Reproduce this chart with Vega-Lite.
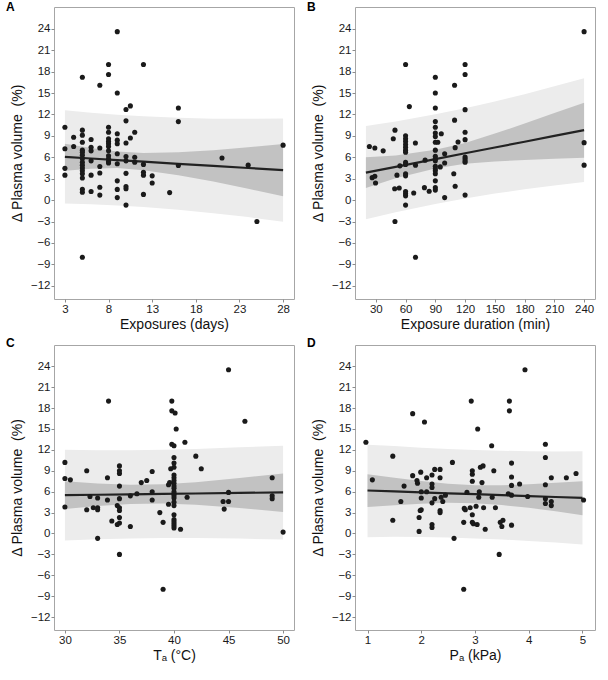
{
  "$schema": "https://vega.github.io/schema/vega-lite/v6.json",
  "padding": {"left": 5, "top": 0, "right": 0, "bottom": 0},
  "background": "white",
  "datasets": {
    "fitA": [
      {"x": 3, "pi_lo": -0.48, "pi_hi": 12.58, "ci_lo": 4.1, "ci_hi": 7.9, "fit": 6.05},
      {"x": 6, "pi_lo": -0.58, "pi_hi": 12.24, "ci_lo": 4.4, "ci_hi": 7.3, "fit": 5.83},
      {"x": 9, "pi_lo": -0.74, "pi_hi": 11.96, "ci_lo": 4.5, "ci_hi": 6.8, "fit": 5.61},
      {"x": 12, "pi_lo": -0.98, "pi_hi": 11.74, "ci_lo": 4.2, "ci_hi": 6.6, "fit": 5.38},
      {"x": 16, "pi_lo": -1.36, "pi_hi": 11.54, "ci_lo": 3.5, "ci_hi": 6.7, "fit": 5.09},
      {"x": 20, "pi_lo": -1.83, "pi_hi": 11.41, "ci_lo": 2.6, "ci_hi": 7.0, "fit": 4.79},
      {"x": 24, "pi_lo": -2.38, "pi_hi": 11.38, "ci_lo": 1.6, "ci_hi": 7.4, "fit": 4.5},
      {"x": 28, "pi_lo": -3.03, "pi_hi": 11.43, "ci_lo": 0.55, "ci_hi": 7.85, "fit": 4.2}
    ],
    "fitB": [
      {"x": 20, "pi_lo": -2.67, "pi_hi": 10.37, "ci_lo": 1.7, "ci_hi": 6.0, "fit": 3.85},
      {"x": 50, "pi_lo": -1.7, "pi_hi": 11.02, "ci_lo": 3.06, "ci_hi": 6.26, "fit": 4.66},
      {"x": 90, "pi_lo": -0.55, "pi_hi": 12.03, "ci_lo": 4.44, "ci_hi": 7.04, "fit": 5.74},
      {"x": 120, "pi_lo": 0.24, "pi_hi": 12.88, "ci_lo": 5.11, "ci_hi": 8.01, "fit": 6.56},
      {"x": 150, "pi_lo": 0.91, "pi_hi": 13.83, "ci_lo": 5.42, "ci_hi": 9.32, "fit": 7.37},
      {"x": 180, "pi_lo": 1.52, "pi_hi": 14.84, "ci_lo": 5.63, "ci_hi": 10.73, "fit": 8.18},
      {"x": 210, "pi_lo": 2.06, "pi_hi": 15.94, "ci_lo": 5.8, "ci_hi": 12.2, "fit": 9.0},
      {"x": 240, "pi_lo": 2.54, "pi_hi": 17.06, "ci_lo": 5.95, "ci_hi": 13.65, "fit": 9.8}
    ],
    "fitC": [
      {"x": 30, "pi_lo": -1.0, "pi_hi": 12.0, "ci_lo": 3.5, "ci_hi": 7.5, "fit": 5.5},
      {"x": 33, "pi_lo": -0.83, "pi_hi": 11.95, "ci_lo": 3.94, "ci_hi": 7.18, "fit": 5.56},
      {"x": 36, "pi_lo": -0.72, "pi_hi": 11.96, "ci_lo": 4.24, "ci_hi": 7.0, "fit": 5.62},
      {"x": 39, "pi_lo": -0.66, "pi_hi": 12.02, "ci_lo": 4.3, "ci_hi": 7.06, "fit": 5.68},
      {"x": 42, "pi_lo": -0.65, "pi_hi": 12.13, "ci_lo": 4.13, "ci_hi": 7.35, "fit": 5.74},
      {"x": 46, "pi_lo": -0.73, "pi_hi": 12.37, "ci_lo": 3.67, "ci_hi": 7.97, "fit": 5.82},
      {"x": 50, "pi_lo": -0.87, "pi_hi": 12.6, "ci_lo": 3.1, "ci_hi": 8.6, "fit": 5.9}
    ],
    "fitD": [
      {"x": 1, "pi_lo": -0.55, "pi_hi": 12.75, "ci_lo": 3.79, "ci_hi": 8.5, "fit": 6.17},
      {"x": 1.5, "pi_lo": -0.48, "pi_hi": 12.56, "ci_lo": 4.07, "ci_hi": 8.01, "fit": 6.04},
      {"x": 2, "pi_lo": -0.52, "pi_hi": 12.32, "ci_lo": 4.28, "ci_hi": 7.52, "fit": 5.9},
      {"x": 2.5, "pi_lo": -0.59, "pi_hi": 12.13, "ci_lo": 4.4, "ci_hi": 7.14, "fit": 5.77},
      {"x": 3, "pi_lo": -0.71, "pi_hi": 11.99, "ci_lo": 4.34, "ci_hi": 6.94, "fit": 5.64},
      {"x": 3.5, "pi_lo": -0.87, "pi_hi": 11.87, "ci_lo": 4.08, "ci_hi": 6.92, "fit": 5.5},
      {"x": 4, "pi_lo": -1.07, "pi_hi": 11.81, "ci_lo": 3.68, "ci_hi": 7.06, "fit": 5.37},
      {"x": 4.5, "pi_lo": -1.3, "pi_hi": 11.78, "ci_lo": 3.19, "ci_hi": 7.29, "fit": 5.24},
      {"x": 5, "pi_lo": -1.59, "pi_hi": 11.79, "ci_lo": 2.63, "ci_hi": 7.5, "fit": 5.1}
    ],
    "ptsA": [
      {"x": 3, "y": 10.2}, {"x": 3, "y": 7.2}, {"x": 3, "y": 4.45}, {"x": 3, "y": 3.5},
      {"x": 4, "y": 8.8}, {"x": 4, "y": 7.5},
      {"x": 5, "y": 17.2}, {"x": 5, "y": 9.8}, {"x": 5, "y": 9.1}, {"x": 5, "y": 8.1}, {"x": 5, "y": 7.0}, {"x": 5, "y": 6.7}, {"x": 5, "y": 6.3}, {"x": 5, "y": 5.8}, {"x": 5, "y": 5.3}, {"x": 5, "y": 4.9}, {"x": 5, "y": 4.5}, {"x": 5, "y": 4.1}, {"x": 5, "y": 3.7}, {"x": 5, "y": 3.1}, {"x": 5, "y": 1.5}, {"x": 5, "y": 1.1}, {"x": 5, "y": -8.0},
      {"x": 6, "y": 8.5}, {"x": 6, "y": 7.4}, {"x": 6, "y": 6.9}, {"x": 6, "y": 5.5}, {"x": 6, "y": 3.5}, {"x": 6, "y": 1.2},
      {"x": 7, "y": 16.1}, {"x": 7, "y": 7.3}, {"x": 7, "y": 4.7}, {"x": 7, "y": 3.8}, {"x": 7, "y": 1.8}, {"x": 7, "y": 0.7},
      {"x": 8, "y": 19.0}, {"x": 8, "y": 17.6}, {"x": 8, "y": 10.2}, {"x": 8, "y": 9.5}, {"x": 8, "y": 8.6}, {"x": 8, "y": 8.2}, {"x": 8, "y": 7.9}, {"x": 8, "y": 7.5}, {"x": 8, "y": 6.9}, {"x": 8, "y": 6.2}, {"x": 8, "y": 5.8}, {"x": 8, "y": 5.4}, {"x": 8, "y": 5.2},
      {"x": 9, "y": 23.6}, {"x": 9, "y": 15.0}, {"x": 9, "y": 9.3}, {"x": 9, "y": 8.4}, {"x": 9, "y": 7.9}, {"x": 9, "y": 6.5}, {"x": 9, "y": 5.1}, {"x": 9, "y": 2.7}, {"x": 9, "y": 1.5}, {"x": 9, "y": 0.35},
      {"x": 10, "y": 12.7}, {"x": 10, "y": 11.1}, {"x": 10, "y": 8.0}, {"x": 10, "y": 6.1}, {"x": 10, "y": 5.5}, {"x": 10, "y": 3.75}, {"x": 10, "y": 1.9}, {"x": 10, "y": 1.6}, {"x": 10, "y": -0.7},
      {"x": 10.5, "y": 13.2}, {"x": 10.5, "y": 8.7},
      {"x": 11, "y": 9.5}, {"x": 11, "y": 6.0}, {"x": 11, "y": 5.3},
      {"x": 12, "y": 19.0}, {"x": 12, "y": 5.0}, {"x": 12, "y": 3.9}, {"x": 12, "y": 3.5}, {"x": 12, "y": 0.8},
      {"x": 13, "y": 3.4}, {"x": 13, "y": 2.4},
      {"x": 15, "y": 1.05},
      {"x": 16, "y": 12.9}, {"x": 16, "y": 11.0}, {"x": 16, "y": 4.85},
      {"x": 21, "y": 5.9}, {"x": 24, "y": 4.9}, {"x": 25, "y": -3.0}, {"x": 28, "y": 7.7}
    ],
    "ptsB": [
      {"x": 23.5, "y": 7.5}, {"x": 29, "y": 7.3}, {"x": 37.4, "y": 6.9}, {"x": 26.3, "y": 3.15}, {"x": 29, "y": 3.35}, {"x": 29.7, "y": 2.4},
      {"x": 47.6, "y": 8.6}, {"x": 49.3, "y": 9.8}, {"x": 49.3, "y": -3.0}, {"x": 49, "y": 1.6}, {"x": 53.6, "y": 1.7}, {"x": 51.3, "y": 3.5}, {"x": 54.3, "y": 4.8},
      {"x": 60, "y": 19.0}, {"x": 60, "y": 9.0}, {"x": 60, "y": 8.6}, {"x": 60, "y": 8.2}, {"x": 60, "y": 7.8}, {"x": 60, "y": 7.4}, {"x": 60, "y": 7.0}, {"x": 60, "y": 6.7}, {"x": 60, "y": 5.3}, {"x": 60, "y": 5.0}, {"x": 60, "y": 3.7}, {"x": 60, "y": 3.4}, {"x": 60, "y": 1.2}, {"x": 60, "y": 0.9}, {"x": 60, "y": 0.6}, {"x": 60, "y": -0.7},
      {"x": 63.8, "y": 13.1}, {"x": 69.9, "y": 8.0}, {"x": 68.2, "y": 1.0}, {"x": 70, "y": 4.9}, {"x": 70, "y": -8.0}, {"x": 79.7, "y": 5.6}, {"x": 79, "y": 1.75}, {"x": 83.8, "y": 1.25},
      {"x": 90, "y": 17.2}, {"x": 90, "y": 15.0}, {"x": 90, "y": 12.9}, {"x": 90, "y": 11.0}, {"x": 90, "y": 10.2}, {"x": 90, "y": 9.4}, {"x": 90, "y": 8.9}, {"x": 90, "y": 8.1}, {"x": 90, "y": 7.0}, {"x": 90, "y": 6.15}, {"x": 90, "y": 5.8}, {"x": 90, "y": 5.5}, {"x": 90, "y": 4.75}, {"x": 90, "y": 4.4}, {"x": 90, "y": 4.1}, {"x": 90, "y": 3.7}, {"x": 90, "y": 2.7}, {"x": 90, "y": 1.75}, {"x": 90, "y": 1.4},
      {"x": 92.5, "y": 8.1}, {"x": 96, "y": 9.3}, {"x": 95, "y": 4.65}, {"x": 99.4, "y": 0.35}, {"x": 99.4, "y": 6.5}, {"x": 99.4, "y": 5.2},
      {"x": 109.4, "y": 16.1}, {"x": 109.4, "y": 11.2}, {"x": 110, "y": 7.35}, {"x": 108.6, "y": 3.7}, {"x": 110, "y": 1.95}, {"x": 112.9, "y": 8.15},
      {"x": 120, "y": 19.0}, {"x": 120, "y": 17.6}, {"x": 120, "y": 12.67}, {"x": 120, "y": 9.5}, {"x": 120, "y": 8.47}, {"x": 120, "y": 6.05}, {"x": 120, "y": 5.8}, {"x": 120, "y": 5.5}, {"x": 120, "y": 5.3}, {"x": 120, "y": 0.7},
      {"x": 240, "y": 23.6}, {"x": 240, "y": 8.05}, {"x": 240, "y": 4.9}
    ],
    "ptsC": [
      {"x": 30, "y": 10.2}, {"x": 30, "y": 7.9}, {"x": 30, "y": 3.8}, {"x": 30.5, "y": 7.7}, {"x": 32, "y": 9.0}, {"x": 32, "y": 3.4}, {"x": 32.3, "y": 5.3}, {"x": 32.6, "y": 3.7},
      {"x": 33, "y": 5.1}, {"x": 33, "y": 3.7}, {"x": 33, "y": 3.4}, {"x": 33, "y": -0.7}, {"x": 33.9, "y": 8.0}, {"x": 33.9, "y": 4.8}, {"x": 34, "y": 19.0}, {"x": 34.3, "y": 1.8}, {"x": 34.8, "y": 4.0}, {"x": 34.8, "y": 1.3},
      {"x": 35, "y": 9.7}, {"x": 35, "y": 9.0}, {"x": 35, "y": 8.6}, {"x": 35, "y": 6.8}, {"x": 35, "y": 5.0}, {"x": 35, "y": 3.7}, {"x": 35, "y": 3.3}, {"x": 35, "y": 2.3}, {"x": 35, "y": 1.5}, {"x": 35, "y": -3.0},
      {"x": 36, "y": 1.0}, {"x": 36, "y": 5.4}, {"x": 36.6, "y": 5.7}, {"x": 37, "y": 7.3}, {"x": 37.5, "y": 7.6}, {"x": 38, "y": 8.9}, {"x": 38, "y": 6.0}, {"x": 38, "y": 4.8}, {"x": 38.7, "y": 3.0}, {"x": 39, "y": 1.6}, {"x": 39, "y": -8.0},
      {"x": 39.8, "y": 19.0}, {"x": 39.8, "y": 17.6}, {"x": 40.1, "y": 17.3}, {"x": 40.2, "y": 15.0}, {"x": 39.8, "y": 12.8}, {"x": 40, "y": 12.6},
      {"x": 40, "y": 10.9}, {"x": 40, "y": 10.1}, {"x": 40, "y": 9.5}, {"x": 40, "y": 8.4}, {"x": 40, "y": 8.0}, {"x": 40, "y": 7.6}, {"x": 40, "y": 7.2}, {"x": 40, "y": 6.8}, {"x": 40, "y": 6.5}, {"x": 40, "y": 6.0}, {"x": 40, "y": 5.7}, {"x": 40, "y": 5.4}, {"x": 40, "y": 5.1}, {"x": 40, "y": 4.5}, {"x": 40, "y": 4.0}, {"x": 40, "y": 2.7}, {"x": 40, "y": 2.0}, {"x": 40, "y": 1.7}, {"x": 40, "y": 1.4}, {"x": 40, "y": 1.1}, {"x": 40, "y": 0.8},
      {"x": 39.6, "y": 7.3}, {"x": 39.5, "y": 7.0}, {"x": 39.5, "y": 4.2}, {"x": 39.7, "y": 9.3}, {"x": 40.6, "y": 0.6}, {"x": 41, "y": 13.1}, {"x": 41.2, "y": 5.2}, {"x": 42, "y": 11.1}, {"x": 42.5, "y": 9.3},
      {"x": 44.5, "y": 4.6}, {"x": 44.6, "y": 3.5}, {"x": 45, "y": 23.5}, {"x": 45, "y": 5.9}, {"x": 45, "y": 4.6}, {"x": 46.5, "y": 16.1}, {"x": 49, "y": 8.0}, {"x": 49, "y": 5.4}, {"x": 49, "y": 5.0}, {"x": 50, "y": 0.2}
    ],
    "ptsD": [
      {"x": 0.97, "y": 13.1}, {"x": 1.09, "y": 7.7}, {"x": 1.47, "y": 11.1}, {"x": 1.47, "y": 1.9}, {"x": 1.68, "y": 6.8}, {"x": 1.62, "y": 4.6}, {"x": 1.84, "y": 17.2}, {"x": 1.84, "y": 8.3},
      {"x": 1.92, "y": 7.6}, {"x": 1.93, "y": 7.2}, {"x": 1.96, "y": 2.3}, {"x": 1.96, "y": 0.3}, {"x": 1.98, "y": 3.3}, {"x": 2.0, "y": 3.4}, {"x": 1.99, "y": 8.8}, {"x": 2.0, "y": 6.0}, {"x": 2.0, "y": 5.1}, {"x": 2.06, "y": 16.0},
      {"x": 2.1, "y": 8.0}, {"x": 2.1, "y": 6.0}, {"x": 2.2, "y": 8.4}, {"x": 2.2, "y": 7.1}, {"x": 2.2, "y": 6.6}, {"x": 2.2, "y": 4.4}, {"x": 2.2, "y": 1.3}, {"x": 2.2, "y": 0.85}, {"x": 2.25, "y": 9.2}, {"x": 2.25, "y": 5.0},
      {"x": 2.35, "y": 9.2}, {"x": 2.35, "y": 8.0}, {"x": 2.35, "y": 3.3}, {"x": 2.35, "y": 3.0}, {"x": 2.37, "y": 5.2}, {"x": 2.4, "y": 4.6}, {"x": 2.45, "y": 5.5}, {"x": 2.58, "y": 10.2}, {"x": 2.61, "y": -0.7},
      {"x": 2.79, "y": 1.6}, {"x": 2.79, "y": -8.0}, {"x": 2.8, "y": 3.6}, {"x": 2.82, "y": 3.4}, {"x": 2.85, "y": 5.9}, {"x": 2.93, "y": 19.0}, {"x": 2.91, "y": 3.7}, {"x": 2.95, "y": 9.0}, {"x": 2.95, "y": 8.5}, {"x": 2.95, "y": 7.5}, {"x": 2.95, "y": 2.7}, {"x": 2.95, "y": 1.6}, {"x": 2.97, "y": 1.4},
      {"x": 3.02, "y": 3.9}, {"x": 3.04, "y": 1.3}, {"x": 3.05, "y": 15.0}, {"x": 3.07, "y": 5.2}, {"x": 3.08, "y": 6.0}, {"x": 3.1, "y": 9.5}, {"x": 3.15, "y": 9.7}, {"x": 3.13, "y": 7.3}, {"x": 3.16, "y": 3.7}, {"x": 3.19, "y": 0.6},
      {"x": 3.31, "y": 12.6}, {"x": 3.32, "y": 5.2}, {"x": 3.35, "y": 9.0}, {"x": 3.38, "y": 3.7}, {"x": 3.45, "y": -3.0}, {"x": 3.47, "y": 1.6}, {"x": 3.5, "y": 1.0}, {"x": 3.52, "y": 1.9},
      {"x": 3.64, "y": 19.0}, {"x": 3.64, "y": 17.6}, {"x": 3.62, "y": 5.7}, {"x": 3.68, "y": 10.1}, {"x": 3.68, "y": 8.1}, {"x": 3.68, "y": 6.9}, {"x": 3.68, "y": 5.5}, {"x": 3.68, "y": 1.2}, {"x": 3.83, "y": 7.1}, {"x": 3.93, "y": 23.5}, {"x": 3.98, "y": 5.3},
      {"x": 4.31, "y": 12.8}, {"x": 4.31, "y": 10.9}, {"x": 4.31, "y": 7.0}, {"x": 4.31, "y": 5.0}, {"x": 4.31, "y": 4.3}, {"x": 4.42, "y": 8.0}, {"x": 4.42, "y": 4.6}, {"x": 4.42, "y": 4.0}, {"x": 4.7, "y": 8.0}, {"x": 4.88, "y": 8.6}, {"x": 5.02, "y": 4.8}
    ]
  },
  "columns": 2,
  "align": "each",
  "bounds": "flush",
  "spacing": {"row": 46, "column": 61},
  "concat": [
    {
      "width": 240, "height": 292,
      "title": {"text": "A", "offset": -7},
      "encoding": {
        "x": {"field": "x", "type": "quantitative", "scale": {"domain": [1.75, 29.25], "nice": false, "zero": false}, "axis": {"values": [3, 8, 13, 18, 23, 28], "title": "Exposures (days)"}}
      },
      "layer": [
        {"data": {"name": "fitA"}, "mark": {"type": "area", "color": "#ececec"}, "encoding": {"y": {"field": "pi_lo", "type": "quantitative", "scale": {"domain": [-13.85, 27.05], "nice": false}, "axis": {"values": [-12, -9, -6, -3, 0, 3, 6, 9, 12, 15, 18, 21, 24], "title": "Δ Plasma volume\u00a0 (%)"}}, "y2": {"field": "pi_hi"}}},
        {"data": {"name": "fitA"}, "mark": {"type": "area", "color": "#c2c2c2"}, "encoding": {"y": {"field": "ci_lo", "type": "quantitative", "scale": {"domain": [-13.85, 27.05], "nice": false}, "axis": {"values": [-12, -9, -6, -3, 0, 3, 6, 9, 12, 15, 18, 21, 24], "title": "Δ Plasma volume\u00a0 (%)"}}, "y2": {"field": "ci_hi"}}},
        {"data": {"name": "fitA"}, "mark": {"type": "line", "color": "#222222", "strokeWidth": 2.2}, "encoding": {"y": {"field": "fit", "type": "quantitative", "scale": {"domain": [-13.85, 27.05], "nice": false}, "axis": {"values": [-12, -9, -6, -3, 0, 3, 6, 9, 12, 15, 18, 21, 24], "title": "Δ Plasma volume\u00a0 (%)"}}}},
        {"data": {"name": "ptsA"}, "mark": {"type": "circle", "color": "#1a1a1a", "size": 26, "opacity": 1}, "encoding": {"y": {"field": "y", "type": "quantitative", "scale": {"domain": [-13.85, 27.05], "nice": false}, "axis": {"values": [-12, -9, -6, -3, 0, 3, 6, 9, 12, 15, 18, 21, 24], "title": "Δ Plasma volume\u00a0 (%)"}}}}
      ]
    },
    {
      "width": 240, "height": 292,
      "title": {"text": "B", "offset": -7},
      "encoding": {
        "x": {"field": "x", "type": "quantitative", "scale": {"domain": [9, 251], "nice": false, "zero": false}, "axis": {"values": [30, 60, 90, 120, 150, 180, 210, 240], "title": "Exposure duration (min)"}}
      },
      "layer": [
        {"data": {"name": "fitB"}, "mark": {"type": "area", "color": "#ececec"}, "encoding": {"y": {"field": "pi_lo", "type": "quantitative", "scale": {"domain": [-13.85, 27.05], "nice": false}, "axis": {"values": [-12, -9, -6, -3, 0, 3, 6, 9, 12, 15, 18, 21, 24], "title": "Δ Plasma volume\u00a0 (%)"}}, "y2": {"field": "pi_hi"}}},
        {"data": {"name": "fitB"}, "mark": {"type": "area", "color": "#c2c2c2"}, "encoding": {"y": {"field": "ci_lo", "type": "quantitative", "scale": {"domain": [-13.85, 27.05], "nice": false}, "axis": {"values": [-12, -9, -6, -3, 0, 3, 6, 9, 12, 15, 18, 21, 24], "title": "Δ Plasma volume\u00a0 (%)"}}, "y2": {"field": "ci_hi"}}},
        {"data": {"name": "fitB"}, "mark": {"type": "line", "color": "#222222", "strokeWidth": 2.2}, "encoding": {"y": {"field": "fit", "type": "quantitative", "scale": {"domain": [-13.85, 27.05], "nice": false}, "axis": {"values": [-12, -9, -6, -3, 0, 3, 6, 9, 12, 15, 18, 21, 24], "title": "Δ Plasma volume\u00a0 (%)"}}}},
        {"data": {"name": "ptsB"}, "mark": {"type": "circle", "color": "#1a1a1a", "size": 26, "opacity": 1}, "encoding": {"y": {"field": "y", "type": "quantitative", "scale": {"domain": [-13.85, 27.05], "nice": false}, "axis": {"values": [-12, -9, -6, -3, 0, 3, 6, 9, 12, 15, 18, 21, 24], "title": "Δ Plasma volume\u00a0 (%)"}}}}
      ]
    },
    {
      "width": 240, "height": 285,
      "title": {"text": "C", "offset": -5},
      "encoding": {
        "x": {"field": "x", "type": "quantitative", "scale": {"domain": [29, 51], "nice": false, "zero": false}, "axis": {"values": [30, 35, 40, 45, 50], "title": "Tₐ (°C)"}}
      },
      "layer": [
        {"data": {"name": "fitC"}, "mark": {"type": "area", "color": "#ececec"}, "encoding": {"y": {"field": "pi_lo", "type": "quantitative", "scale": {"domain": [-13.85, 27.05], "nice": false}, "axis": {"values": [-12, -9, -6, -3, 0, 3, 6, 9, 12, 15, 18, 21, 24], "title": "Δ Plasma volume\u00a0 (%)"}}, "y2": {"field": "pi_hi"}}},
        {"data": {"name": "fitC"}, "mark": {"type": "area", "color": "#c2c2c2"}, "encoding": {"y": {"field": "ci_lo", "type": "quantitative", "scale": {"domain": [-13.85, 27.05], "nice": false}, "axis": {"values": [-12, -9, -6, -3, 0, 3, 6, 9, 12, 15, 18, 21, 24], "title": "Δ Plasma volume\u00a0 (%)"}}, "y2": {"field": "ci_hi"}}},
        {"data": {"name": "fitC"}, "mark": {"type": "line", "color": "#222222", "strokeWidth": 2.2}, "encoding": {"y": {"field": "fit", "type": "quantitative", "scale": {"domain": [-13.85, 27.05], "nice": false}, "axis": {"values": [-12, -9, -6, -3, 0, 3, 6, 9, 12, 15, 18, 21, 24], "title": "Δ Plasma volume\u00a0 (%)"}}}},
        {"data": {"name": "ptsC"}, "mark": {"type": "circle", "color": "#1a1a1a", "size": 26, "opacity": 1}, "encoding": {"y": {"field": "y", "type": "quantitative", "scale": {"domain": [-13.85, 27.05], "nice": false}, "axis": {"values": [-12, -9, -6, -3, 0, 3, 6, 9, 12, 15, 18, 21, 24], "title": "Δ Plasma volume\u00a0 (%)"}}}}
      ]
    },
    {
      "width": 240, "height": 285,
      "title": {"text": "D", "offset": -5},
      "encoding": {
        "x": {"field": "x", "type": "quantitative", "scale": {"domain": [0.767, 5.233], "nice": false, "zero": false}, "axis": {"values": [1, 2, 3, 4, 5], "title": "Pₐ (kPa)"}}
      },
      "layer": [
        {"data": {"name": "fitD"}, "mark": {"type": "area", "color": "#ececec"}, "encoding": {"y": {"field": "pi_lo", "type": "quantitative", "scale": {"domain": [-13.85, 27.05], "nice": false}, "axis": {"values": [-12, -9, -6, -3, 0, 3, 6, 9, 12, 15, 18, 21, 24], "title": "Δ Plasma volume\u00a0 (%)"}}, "y2": {"field": "pi_hi"}}},
        {"data": {"name": "fitD"}, "mark": {"type": "area", "color": "#c2c2c2"}, "encoding": {"y": {"field": "ci_lo", "type": "quantitative", "scale": {"domain": [-13.85, 27.05], "nice": false}, "axis": {"values": [-12, -9, -6, -3, 0, 3, 6, 9, 12, 15, 18, 21, 24], "title": "Δ Plasma volume\u00a0 (%)"}}, "y2": {"field": "ci_hi"}}},
        {"data": {"name": "fitD"}, "mark": {"type": "line", "color": "#222222", "strokeWidth": 2.2}, "encoding": {"y": {"field": "fit", "type": "quantitative", "scale": {"domain": [-13.85, 27.05], "nice": false}, "axis": {"values": [-12, -9, -6, -3, 0, 3, 6, 9, 12, 15, 18, 21, 24], "title": "Δ Plasma volume\u00a0 (%)"}}}},
        {"data": {"name": "ptsD"}, "mark": {"type": "circle", "color": "#1a1a1a", "size": 26, "opacity": 1}, "encoding": {"y": {"field": "y", "type": "quantitative", "scale": {"domain": [-13.85, 27.05], "nice": false}, "axis": {"values": [-12, -9, -6, -3, 0, 3, 6, 9, 12, 15, 18, 21, 24], "title": "Δ Plasma volume\u00a0 (%)"}}}}
      ]
    }
  ],
  "config": {
    "font": "Liberation Sans",
    "view": {"stroke": "#a6a6a6", "strokeWidth": 1},
    "axis": {
      "grid": false,
      "domain": false,
      "tickColor": "#8c8c8c",
      "tickSize": 3,
      "labelFontSize": 11.5,
      "labelColor": "#1a1a1a",
      "labelPadding": 1,
      "titleFontSize": 14,
      "titleFontWeight": "normal",
      "titleColor": "#111111"
    },
    "axisX": {"titlePadding": 3},
    "axisY": {"titlePadding": 6},
    "title": {
      "anchor": "start",
      "frame": "group",
      "orient": "top",
      "baseline": "alphabetic",
      "dx": -48,
      "fontSize": 12,
      "fontWeight": "bold",
      "color": "#000000"
    }
  }
}
